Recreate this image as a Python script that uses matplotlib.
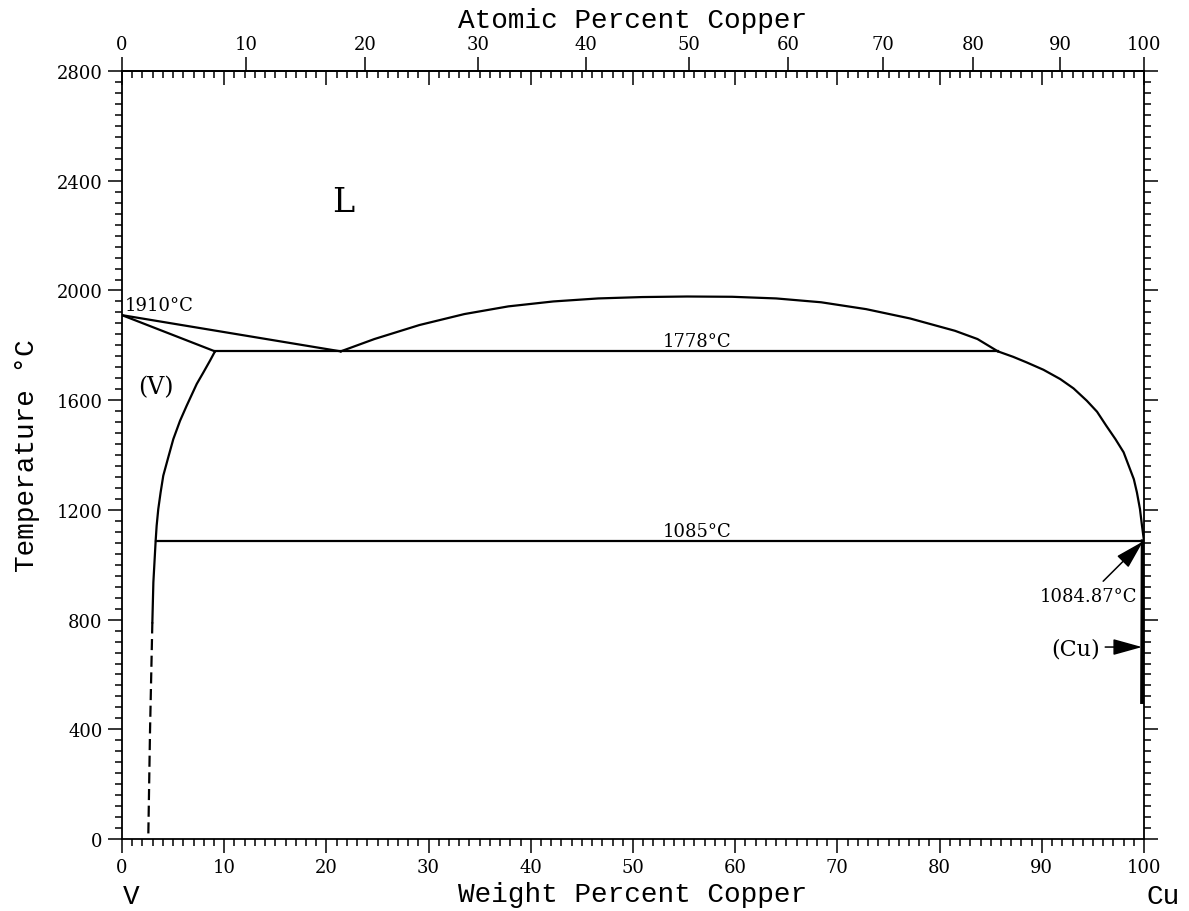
import numpy as np
import matplotlib
matplotlib.use("Agg")
from matplotlib import pyplot as plt
from matplotlib.ticker import MultipleLocator

# V-Cu phase diagram
liq_v_w = [0, 21.4]
liq_v_t = [1910, 1778]
sol_v_w = [0, 9.1]
sol_v_t = [1910, 1778]
mono_w = [9.1, 85.7]
mono_t = [1778, 1778]
gap_w = [21.4, 24.7, 29.1, 33.5, 37.8, 42.2, 46.6, 50.9, 55.3, 59.7,
         64.0, 68.4, 72.8, 77.1, 81.5, 83.7, 85.7]
gap_t = [1778, 1823, 1874, 1914, 1942, 1960, 1971, 1976, 1978, 1977,
         1971, 1957, 1932, 1898, 1853, 1823, 1778]
liq_cu_w = [85.7, 87.2, 88.5, 90.15, 91.8, 93.1, 94.4, 95.4, 96.3, 97.2,
            98.0, 98.5, 99.0, 99.3, 99.6, 99.8, 100]
liq_cu_t = [1778, 1758, 1738, 1711, 1677, 1643, 1598, 1558, 1507, 1458,
            1410, 1361, 1312, 1264, 1203, 1142, 1085]
solv_v_w = [9.1, 8.61, 7.96, 7.31, 6.33, 5.68, 5.02, 4.53, 4.04, 3.78,
            3.55, 3.39, 3.29, 3.07, 2.97]
solv_v_t = [1778, 1744, 1701, 1659, 1580, 1525, 1458, 1392, 1325, 1264,
            1203, 1142, 1085, 936, 790]
solv_v_dash_w = [2.97, 2.74, 2.57]
solv_v_dash_t = [790, 389, 0]
eut_w = [3.29, 100]
eut_t = [1085, 1085]
cu_solv_w = [99.88, 99.82]
cu_solv_t = [1085, 500]

M_V = 50.9415
M_CU = 63.546


def wt2at(w):
    w = np.asarray(w, dtype=float)
    a = w / M_CU
    b = (100 - w) / M_V
    return 100 * a / (a + b)


def at2wt(x):
    x = np.asarray(x, dtype=float)
    a = x * M_CU
    b = (100 - x) * M_V
    return 100 * a / (a + b)


serif = "DejaVu Serif"
mono = "Liberation Mono"

fig = plt.figure(figsize=(11.89, 9.12), dpi=100)
ax = fig.add_axes([0.1026, 0.0789, 0.8596, 0.8421])

lw = 1.6
ax.plot(liq_v_w, liq_v_t, color="k", lw=lw)
ax.plot(sol_v_w, sol_v_t, color="k", lw=lw)
ax.plot(mono_w, mono_t, color="k", lw=lw)
ax.plot(gap_w, gap_t, color="k", lw=lw)
ax.plot(liq_cu_w, liq_cu_t, color="k", lw=lw)
ax.plot(solv_v_w, solv_v_t, color="k", lw=lw)
ax.plot(solv_v_dash_w, solv_v_dash_t, color="k", lw=lw, linestyle=(0, (5, 2.5)))
ax.plot(eut_w, eut_t, color="k", lw=lw)
ax.plot(cu_solv_w, cu_solv_t, color="k", lw=3)

ax.set_xlim(0, 100)
ax.set_ylim(0, 2800)

# axis ticks
ax.xaxis.set_major_locator(MultipleLocator(10))
ax.xaxis.set_minor_locator(MultipleLocator(1))
ax.yaxis.set_major_locator(MultipleLocator(400))
ax.yaxis.set_minor_locator(MultipleLocator(40))
ax.tick_params(axis="both", which="major", direction="out", length=10, width=1.1,
               labelsize=13, pad=4)
ax.tick_params(axis="both", which="minor", direction="out", length=5, width=1.1)
ax.tick_params(axis="y", which="both", left=True, right=True)
ax.tick_params(axis="x", which="both", bottom=True, top=False)
for lab in ax.get_xticklabels() + ax.get_yticklabels():
    lab.set_fontfamily(serif)
for s in ax.spines.values():
    s.set_linewidth(1.3)

# top: inward weight-percent ticks
ax_top = ax.twiny()
ax_top.set_xlim(0, 100)
ax_top.xaxis.set_major_locator(MultipleLocator(10))
ax_top.xaxis.set_minor_locator(MultipleLocator(1))
ax_top.tick_params(axis="x", which="major", direction="in", length=10, width=1.1,
                   labeltop=False)
ax_top.tick_params(axis="x", which="minor", direction="in", length=5, width=1.1)
for s in ax_top.spines.values():
    s.set_visible(False)

# top: outward atomic-percent ticks
top_at = ax.secondary_xaxis("top", functions=(wt2at, at2wt))
top_at.set_xticks(np.arange(0, 101, 10))
top_at.xaxis.set_minor_locator(plt.NullLocator())
top_at.tick_params(which="major", direction="out", length=10, width=1.1,
                   labelsize=13, pad=3)
top_at.spines["top"].set_linewidth(1.3)
for lab in top_at.get_xticklabels():
    lab.set_fontfamily(serif)
top_at.set_xlabel("Atomic Percent Copper", fontfamily=mono, fontsize=20, labelpad=6)

ax.set_xlabel("Weight Percent Copper", fontfamily=mono, fontsize=20, labelpad=3)
ax.set_ylabel("Temperature °C", fontfamily=mono, fontsize=20, labelpad=12)

# labels inside the diagram
ax.text(21.6, 2322, "L", fontfamily=serif, fontsize=24, ha="center", va="center")
ax.text(3.3, 1648, "(V)", fontfamily=serif, fontsize=17, ha="center", va="center")
ax.text(0.3, 1915, "1910°C", fontfamily=serif, fontsize=13, ha="left", va="bottom")
ax.text(56.3, 1782, "1778°C", fontfamily=serif, fontsize=13, ha="center", va="bottom")
ax.text(56.3, 1089, "1085°C", fontfamily=serif, fontsize=13, ha="center", va="bottom")
ax.text(94.6, 886, "1084.87°C", fontfamily=serif, fontsize=13, ha="center", va="center")
ax.text(93.3, 696, "(Cu)", fontfamily=serif, fontsize=16, ha="center", va="center")

arrow = dict(arrowstyle="-|>,head_length=0.9,head_width=0.25", color="k",
             lw=1.1, mutation_scale=20, shrinkA=0, shrinkB=0)
ax.annotate("", xy=(99.9, 1085), xytext=(96.0, 940), arrowprops=arrow)
ax.annotate("", xy=(99.8, 700), xytext=(96.2, 700), arrowprops=arrow)

fig.text(131 / 1189, 1 - 897 / 912, "V", fontfamily=mono, fontsize=20,
         ha="center", va="center")
fig.text(1163 / 1189, 1 - 897 / 912, "Cu", fontfamily=mono, fontsize=20,
         ha="center", va="center")

fig.savefig("out.png", dpi=100)
